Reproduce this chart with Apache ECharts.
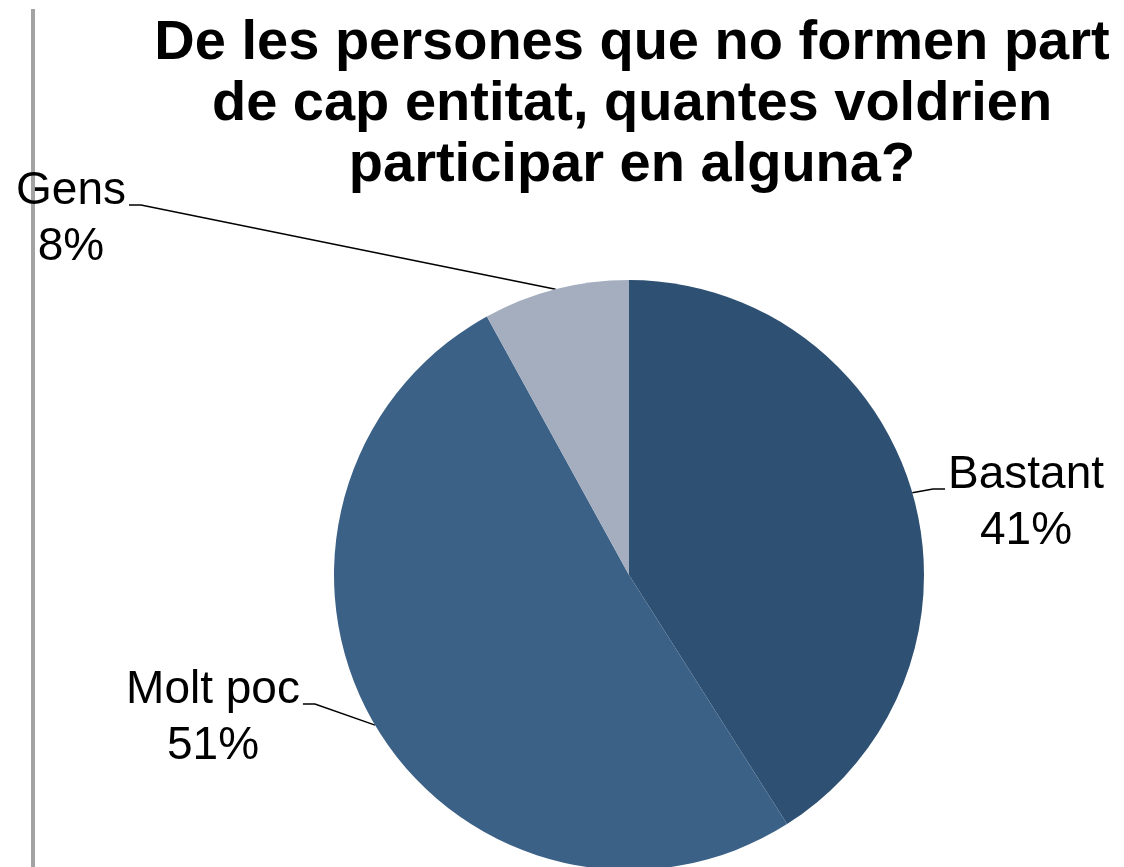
<!DOCTYPE html>
<html>
<head>
<meta charset="utf-8">
<script src="https://cdn.jsdelivr.net/npm/echarts@6/dist/echarts.min.js"></script>
<style>
  html, body { margin: 0; padding: 0; background: #fff; }
  #main { width: 1124px; height: 867px; }
</style>
</head>
<body>
<div id="main"></div>
<script>
// dades del gràfic
var categories = ['Bastant', 'Molt poc', 'Gens'];
var values = [41, 51, 8];
var colors = ['#2E5072', '#3B6187', '#A4AEBF'];

// posició del centre de cada etiqueta (x, y)
var labelPos = [[1026, 503], [213, 718], [71, 219]];

var chart = echarts.init(document.getElementById('main'));

var data = [];
for (var i = 0; i < categories.length; i++) {
  data.push({ name: categories[i], value: values[i], itemStyle: { color: colors[i] } });
}

var option = {
  animation: false,
  title: {
    text: 'De les persones que no formen part\nde cap entitat, quantes voldrien\nparticipar en alguna?',
    left: 627,
    top: 8,
    textAlign: 'center',
    textStyle: {
      fontFamily: 'Liberation Sans, Arial, sans-serif',
      fontSize: 56,
      fontWeight: 'bold',
      lineHeight: 61,
      color: '#000'
    }
  },
  graphic: [{
    type: 'line',
    shape: { x1: 33, y1: 9, x2: 33, y2: 867 },
    style: { stroke: '#A3A3A3', lineWidth: 4 }
  }],
  series: [{
    type: 'pie',
    center: [629, 575],
    radius: 295,
    startAngle: 90,
    clockwise: true,
    data: data,
    label: {
      show: true,
      formatter: '{b}\n{d}%',
      fontFamily: 'Liberation Sans, Arial, sans-serif',
      fontSize: 46,
      lineHeight: 56,
      color: '#000',
      align: 'center'
    },
    labelLine: {
      show: true,
      length: 20,
      length2: 10,
      lineStyle: { color: '#000', width: 1.5 }
    },
    labelLayout: function (params) {
      var p = labelPos[params.dataIndex];
      var anchor = params.labelLinePoints[0];
      var w = params.labelRect.width;
      var ly = p[1] - 14;
      var pts;
      if (anchor[0] > p[0]) {
        var ex = p[0] + w / 2 + 3;
        pts = [anchor, [ex + 12, ly], [ex, ly]];
      } else {
        var sx = p[0] - w / 2 - 3;
        pts = [anchor, [sx - 12, ly], [sx, ly]];
      }
      return {
        x: p[0],
        y: p[1],
        align: 'center',
        verticalAlign: 'middle',
        labelLinePoints: pts
      };
    }
  }]
};

chart.setOption(option);
</script>
</body>
</html>
